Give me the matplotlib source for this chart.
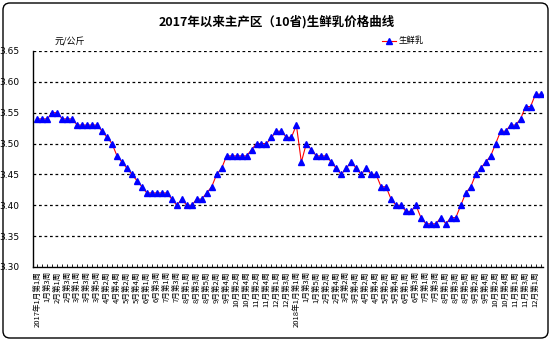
import numpy as np
import matplotlib
matplotlib.use('Agg')
import matplotlib.pyplot as plt
from matplotlib.patches import FancyBboxPatch

plt.rcParams['font.family'] = ['Noto Sans CJK SC', 'DejaVu Sans']

#------ donnees ------
titre = '2017年以来主产区（10省)生鲜乳价格曲线'
unite = '元/公斤'
nom_serie = '生鲜乳'

# prix hebdo (yuan/kg), une valeur par semaine
prix = [3.54, 3.54, 3.54, 3.55, 3.55, 3.54, 3.54, 3.54, 3.53, 3.53,
        3.53, 3.53, 3.53, 3.52, 3.51, 3.50, 3.48, 3.47, 3.46, 3.45,
        3.44, 3.43, 3.42, 3.42, 3.42, 3.42, 3.42, 3.41, 3.40, 3.41,
        3.40, 3.40, 3.41, 3.41, 3.42, 3.43, 3.45, 3.46, 3.48, 3.48,
        3.48, 3.48, 3.48, 3.49, 3.50, 3.50, 3.50, 3.51, 3.52, 3.52,
        3.51, 3.51, 3.53, 3.47, 3.50, 3.49, 3.48, 3.48, 3.48, 3.47,
        3.46, 3.45, 3.46, 3.47, 3.46, 3.45, 3.46, 3.45, 3.45, 3.43,
        3.43, 3.41, 3.40, 3.40, 3.39, 3.39, 3.40, 3.38, 3.37, 3.37,
        3.37, 3.38, 3.37, 3.38, 3.38, 3.40, 3.42, 3.43, 3.45, 3.46,
        3.47, 3.48, 3.50, 3.52, 3.52, 3.53, 3.53, 3.54, 3.56, 3.56,
        3.58, 3.58]

# une etiquette toutes les 2 semaines
etiquettes = ['2017年1月第1周', '1月第3周', '2月第1周', '2月第3周', '3月第1周',
              '3月第3周', '3月第5周', '4月第2周', '4月第4周', '5月第2周',
              '5月第4周', '6月第1周', '6月第3周', '7月第1周', '7月第3周',
              '8月第1周', '8月第3周', '8月第5周', '9月第2周', '9月第4周',
              '10月第2周', '10月第4周', '11月第2周', '11月第4周', '12月第1周',
              '12月第3周', '2018年1月第1周', '1月第3周', '1月第5周', '2月第2周',
              '2月第4周', '3月第2周', '3月第4周', '4月第2周', '4月第4周',
              '5月第2周', '5月第4周', '6月第1周', '6月第3周', '7月第1周',
              '7月第3周', '8月第1周', '8月第3周', '8月第5周', '9月第2周',
              '9月第4周', '10月第2周', '10月第4周', '11月第1周', '11月第3周',
              '12月第1周']

y_ticks = [3.30, 3.35, 3.40, 3.45, 3.50, 3.55, 3.60, 3.65]

#------ figure ------
x = np.arange(len(prix))

fig = plt.figure(figsize=(5.53, 3.41), dpi=100)
ax = fig.add_axes([33/553, 74/341, 510/553, 216/341])

ax.plot(x, prix, color='red', lw=0.8, marker='^', markersize=5,
        markerfacecolor='blue', markeredgecolor='blue', label=nom_serie)

ax.set_xlim(-0.86, 101.5)
ax.set_ylim(3.30, 3.65)

# grille pointillee
for v in y_ticks[1:]:
    ax.axhline(v, color='black', lw=0.9, dashes=(2.2, 2.2), zorder=0)

ax.set_yticks(y_ticks)
ax.set_yticklabels(['%.2f' % v for v in y_ticks], fontsize=6.5, family='DejaVu Sans')
ax.tick_params(axis='y', length=0, pad=10)

ax.set_xticks(x[::2])
ax.set_xticklabels(etiquettes, rotation=90, fontsize=5.5, va='top', ha='center')
ax.set_xticks(x, minor=True)
ax.tick_params(axis='x', which='both', direction='in', length=2, pad=3, width=0.6)

for s in ['top', 'right']:
    ax.spines[s].set_visible(False)
ax.spines['left'].set_linewidth(1)
ax.spines['bottom'].set_linewidth(1)

fig.text(0.5, 1 - 22/341, titre, ha='center', va='center', fontsize=9, fontweight='bold')
fig.text(55/553, 1 - 42/341, unite, ha='left', va='center', fontsize=6.5, style='italic')

ax.legend(loc='center left', bbox_to_anchor=(378/553, 1 - 41/341),
          bbox_transform=fig.transFigure, frameon=False, fontsize=6,
          handlelength=1.6, handletextpad=0.4, borderpad=0)

# cadre arrondi autour de tout
cadre = FancyBboxPatch((0.03, 0.03), 5.45, 3.35, boxstyle='round,pad=0,rounding_size=0.07',
                       transform=fig.dpi_scale_trans, fill=False, ec='black', lw=1)
fig.patches.append(cadre)

fig.savefig('out.png', dpi=100)
